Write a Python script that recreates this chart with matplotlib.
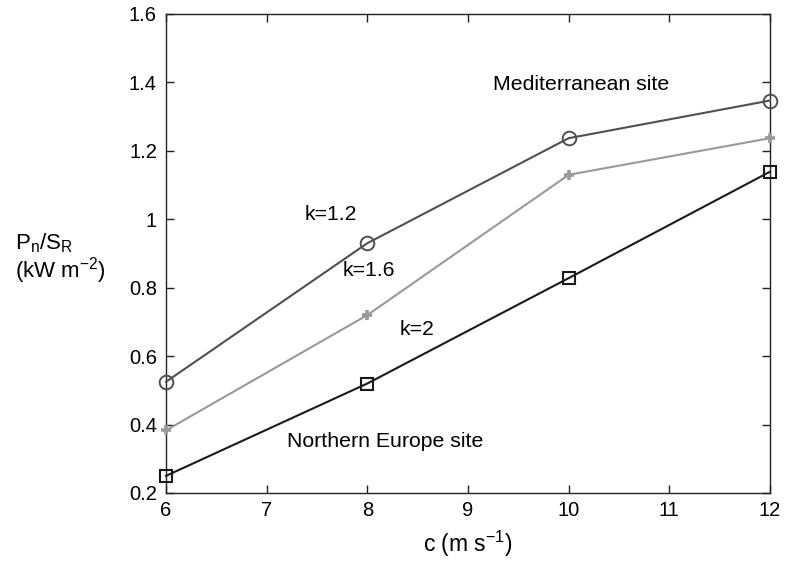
import matplotlib

matplotlib.use("Agg")
import matplotlib.pyplot as plt

plt.rcParams["font.family"] = ["Liberation Sans", "DejaVu Sans"]
plt.rcParams["mathtext.fontset"] = "custom"
plt.rcParams["mathtext.rm"] = "Liberation Sans"
plt.rcParams["mathtext.it"] = "Liberation Sans"

# wind speed (m/s) and power density per swept area (kW m^-2)
speed = [6, 8, 10, 12]
k12 = [0.525, 0.93, 1.237, 1.347]
k16 = [0.383, 0.72, 1.13, 1.237]
k20 = [0.25, 0.52, 0.828, 1.139]

xticks = [6, 7, 8, 9, 10, 11, 12]
yticks = [0.2, 0.4, 0.6, 0.8, 1.0, 1.2, 1.4, 1.6]
ytick_labels = ["0.2", "0.4", "0.6", "0.8", "1", "1.2", "1.4", "1.6"]

fig = plt.figure(figsize=(7.87, 5.62), dpi=100)
ax = fig.add_axes([0.2109, 0.1228, 0.7675, 0.8523])

ax.plot(speed, k12, color="#505050", lw=1.5, marker="o", ms=9.8,
        mfc="none", mec="#505050", mew=1.4, clip_on=False, zorder=3)
ax.plot(speed, k16, color="#999999", lw=1.5, marker="+", ms=7,
        mew=2.6, mec="#999999", clip_on=False, zorder=3)
ax.plot(speed, k20, color="#1a1a1a", lw=1.5, marker="s", ms=9,
        mfc="none", mec="#1a1a1a", mew=1.5, clip_on=False, zorder=3)

ax.set_xlim(6, 12)
ax.set_ylim(0.2, 1.6)
ax.set_xticks(xticks)
ax.set_yticks(yticks)
ax.set_yticklabels(ytick_labels)
ax.tick_params(direction="in", length=6, width=1, top=True, right=True,
               labelsize=14.5, colors="#222222", labelcolor="black")
ax.tick_params(axis="x", pad=6)
ax.tick_params(axis="y", pad=6.5)
for sp in ax.spines.values():
    sp.set_linewidth(1.0)
    sp.set_color("#222222")

ax.set_xlabel("c (m s$^{\u22121}$)", fontsize=16.5, labelpad=6)
fig.text(0.019, 0.568, "P$_\\mathregular{n}$/S$_\\mathregular{R}$",
         fontsize=16, ha="left", va="center")
fig.text(0.019, 0.518, "(kW m$^{\u22122}$)",
         fontsize=16, ha="left", va="center")

ax.text(9.244, 1.395, "Mediterranean site", fontsize=15.3, va="center")
ax.text(7.38, 1.014, "k=1.2", fontsize=15.3, va="center")
ax.text(7.755, 0.849, "k=1.6", fontsize=15.3, va="center")
ax.text(8.317, 0.679, "k=2", fontsize=15.3, va="center")
ax.text(7.206, 0.351, "Northern Europe site", fontsize=15.3, va="center")

fig.savefig("out.png", dpi=100)
